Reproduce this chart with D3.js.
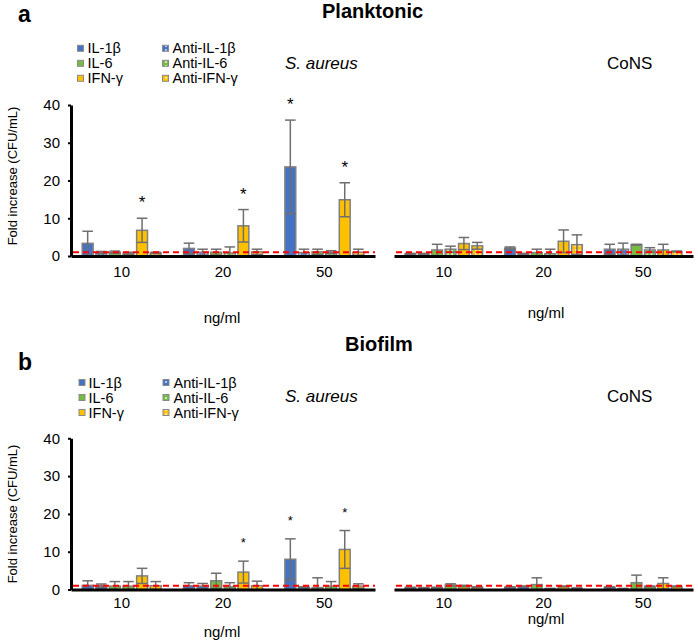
<!DOCTYPE html>
<html><head><meta charset="utf-8">
<script src="https://cdn.jsdelivr.net/npm/d3@7"></script>
<style>
html,body{margin:0;padding:0;background:#fff;}
svg{display:block;font-family:"Liberation Sans",Arial,Helvetica,sans-serif;}
</style></head>
<body><svg id="chart" width="698" height="643"></svg>
<script>
// ---------- data ----------
const doses = ["10", "20", "50"];
const series = ["IL-1β", "Anti-IL-1β", "IL-6", "Anti-IL-6", "IFN-γ", "Anti-IFN-γ"];
const yTicks = [0, 10, 20, 30, 40];
const panelTitles = ["Planktonic", "Biofilm"];
const panelLetters = ["a", "b"];
const species = ["S. aureus", "CoNS"];
const xTitle = "ng/ml";
const yTitles = ["Fold increase (CFU/mL)", "Fold increase  (CFU/mL)"];
const refLine = 1;

// rows = dose (10, 20, 50); columns = series
const plankAureusMean = [[3.35, 0.9, 1.0, 0.7, 6.8, 0.8], [2.0, 1.0, 1.0, 0.8, 8.0, 1.1], [23.6, 0.9, 1.1, 1.0, 14.9, 1.0]];
const plankAureusErr  = [[3.2, 0.3, 0.3, 0.3, 3.2, 0.2], [1.4, 0.8, 0.8, 1.6, 4.3, 0.7], [12.4, 0.9, 0.7, 0.4, 4.5, 0.8]];
const plankAureusSig  = [[0, 0, 0, 0, 1, 0], [0, 0, 0, 0, 1, 0], [1, 0, 0, 0, 1, 0]];

const plankConsMean = [[0.6, 0.6, 1.6, 1.8, 3.3, 2.7], [2.1, 0.6, 0.9, 0.6, 3.9, 3.0], [1.8, 1.8, 3.0, 1.6, 1.6, 1.2]];
const plankConsErr  = [[0.1, 0.1, 1.5, 0.8, 1.6, 0.9], [0.3, 0.1, 0.9, 1.2, 3.0, 2.6], [1.3, 1.6, 0.1, 0.6, 1.5, 0.1]];
const plankConsSig  = [[0, 0, 0, 0, 0, 0], [0, 0, 0, 0, 0, 0], [0, 0, 0, 0, 0, 0]];

const bioAureusMean = [[1.1, 1.0, 0.9, 0.9, 3.6, 1.0], [1.0, 0.9, 2.3, 0.7, 4.6, 1.0], [8.0, 0.6, 0.5, 0.9, 10.6, 0.9]];
const bioAureusErr  = [[1.2, 0.45, 1.2, 1.2, 2.0, 1.1], [0.8, 0.7, 2.0, 1.1, 2.9, 1.2], [5.4, 0.1, 2.6, 1.2, 5.0, 0.6]];
const bioAureusSig  = [[0, 0, 0, 0, 0, 0], [0, 0, 0, 0, 1, 0], [1, 0, 0, 0, 1, 0]];

const bioConsMean = [[0.5, 0.4, 0.5, 1.2, 0.9, 0.6], [0.6, 0.8, 1.3, 0.2, 0.8, 0.3], [0.6, 0.2, 1.8, 0.8, 1.6, 0.8]];
const bioConsErr  = [[0.1, 0.1, 0.1, 0.3, 0.2, 0.1], [0.1, 0.1, 1.8, 0.1, 0.1, 0.1], [0.1, 0.1, 2.0, 0.1, 1.5, 0.1]];
const bioConsSig  = [[0, 0, 0, 0, 0, 0], [0, 0, 0, 0, 0, 0], [0, 0, 0, 0, 0, 0]];

// ---------- style ----------
const baseColors = ["#4472C4", "#4472C4", "#76BC44", "#76BC44", "#FFC000", "#FFC000"];
const isAnti = [false, true, false, true, false, true];
const FONT = "'Liberation Sans',Arial,Helvetica,sans-serif";

const svg = d3.select("#chart");
const defs = svg.append("defs");
["blue", "green", "yellow"].forEach((nm, k) => {
  const p = defs.append("pattern").attr("id", "pat-" + nm)
    .attr("patternUnits", "userSpaceOnUse").attr("width", 4).attr("height", 4);
  p.append("rect").attr("width", 4).attr("height", 4).attr("fill", baseColors[k * 2]);
  p.append("rect").attr("x", 1.2).attr("y", 1.2).attr("width", 1.6).attr("height", 1.6).attr("fill", "#ffffff");
});
const patNames = ["blue", "blue", "green", "green", "yellow", "yellow"];
const fillFor = i => isAnti[i] ? `url(#pat-${patNames[i]})` : baseColors[i];

const layouts = [
  { yRange: [256, 105], tickPad: 10, letterY: 22, titleX: 322, titleY: 18,
    legSw: [77.5, 162.5], legTx: [87.5, 172.5], legBase: 53.3, legStep: 15, speciesY: 69,
    xtY: [323, 318], ytitleY: 176, starSize: 17, starOff: 10 },
  { yRange: [589.5, 438.3], tickPad: 7.5, letterY: 370, titleX: 345, titleY: 350.7,
    legSw: [79, 163], legTx: [88.5, 173.5], legBase: 387.5, legStep: 15, speciesY: 401.7,
    xtY: [637, 624], ytitleY: 514, starSize: 13, starOff: 14 }
];
const xRanges = [[71, 375], [394, 693]];
const speciesX = [285, 607];
const xTitleX = [222, 546];

const panelData = [
  [[plankAureusMean, plankAureusErr, plankAureusSig], [plankConsMean, plankConsErr, plankConsSig]],
  [[bioAureusMean, bioAureusErr, bioAureusSig], [bioConsMean, bioConsErr, bioConsSig]]
];

layouts.forEach((L, p) => {
  const g = svg.append("g");
  const y = d3.scaleLinear().domain([0, 40]).range(L.yRange);

  // letter + title
  g.append("text").attr("x", 18).attr("y", L.letterY).attr("font-size", 23).attr("font-weight", "bold")
    .attr("font-family", FONT).text(panelLetters[p]);
  g.append("text").attr("x", L.titleX).attr("y", L.titleY).attr("font-size", 20).attr("font-weight", "bold")
    .attr("font-family", FONT).text(panelTitles[p]);

  // legend
  const leg = g.append("g");
  series.forEach((s, i) => {
    const col = i % 2, row = Math.floor(i / 2);
    const by = L.legBase + row * L.legStep;
    leg.append("rect").attr("x", L.legSw[col]).attr("y", by - 8).attr("width", 6).attr("height", 6)
      .attr("fill", fillFor(i)).attr("stroke", "#8a8a8a").attr("stroke-width", 1);
    leg.append("text").attr("x", L.legTx[col]).attr("y", by).attr("font-size", 14.5)
      .attr("font-family", FONT).text(s);
  });

  // y title
  g.append("text").attr("transform", `translate(17,${L.ytitleY}) rotate(-90)`).attr("text-anchor", "middle")
    .attr("font-size", 13).attr("font-family", FONT).text(yTitles[p]);

  xRanges.forEach((xr, s) => {
    const [mean, err, sig] = panelData[p][s];
    const x0 = d3.scaleBand().domain(doses).range(xr);
    const x1 = d3.scaleBand().domain(series).range([0, x0.bandwidth()]).paddingInner(0.2).paddingOuter(0.825);

    // species label
    g.append("text").attr("x", speciesX[s]).attr("y", L.speciesY).attr("font-size", 17)
      .attr("font-style", s === 0 ? "italic" : "normal").attr("font-family", FONT).text(species[s]);

    const groups = g.append("g").selectAll("g").data(doses).join("g")
      .attr("transform", d => `translate(${x0(d)},0)`);

    groups.each(function (d, di) {
      const gg = d3.select(this);
      series.forEach((sn, si) => {
        const m = mean[di][si], e = err[di][si];
        const bx = x1(sn), bw = x1.bandwidth(), cx = bx + bw / 2;
        gg.append("rect").attr("x", bx).attr("y", y(m)).attr("width", bw).attr("height", y(0) - y(m))
          .attr("fill", fillFor(si)).attr("stroke", "#808080").attr("stroke-width", 1.5);
        const lo = Math.max(0, m - e), hi = m + e;
        const capW = 5.3;
        gg.append("line").attr("x1", cx).attr("x2", cx).attr("y1", y(lo)).attr("y2", y(hi))
          .attr("stroke", "#6f6f6f").attr("stroke-width", 1.5);
        gg.append("line").attr("x1", cx - capW).attr("x2", cx + capW).attr("y1", y(hi)).attr("y2", y(hi))
          .attr("stroke", "#6f6f6f").attr("stroke-width", 1.5);
        if (m - e > 0.05) {
          gg.append("line").attr("x1", cx - capW).attr("x2", cx + capW).attr("y1", y(lo)).attr("y2", y(lo))
            .attr("stroke", "#6f6f6f").attr("stroke-width", 1.5);
        }
        if (sig[di][si]) {
          gg.append("text").attr("x", cx).attr("y", y(hi) - L.starOff).attr("text-anchor", "middle")
            .attr("font-size", L.starSize).attr("font-family", FONT).text("*");
        }
      });
    });

    // reference line
    g.append("line").attr("x1", xr[0] + 2).attr("x2", xr[1]).attr("y1", y(refLine)).attr("y2", y(refLine))
      .attr("stroke", "#FF0000").attr("stroke-width", 2).attr("stroke-dasharray", "6,4");

    // x axis
    const xa = g.append("g").attr("transform", `translate(0,${y(0)})`)
      .call(d3.axisBottom(x0).tickSize(0).tickSizeOuter(0).tickPadding(L.tickPad));
    xa.select(".domain").attr("stroke", "#000").attr("stroke-width", 3);
    xa.selectAll("text").attr("font-size", 15).attr("font-family", FONT).attr("fill", "#000");

    g.append("text").attr("x", xTitleX[s]).attr("y", L.xtY[s]).attr("text-anchor", "middle")
      .attr("font-size", 15).attr("font-family", FONT).text(xTitle);

    if (s === 0) {
      const ya = g.append("g").attr("transform", `translate(${xr[0]},0)`)
        .call(d3.axisLeft(y).tickValues(yTicks).tickSize(3).tickSizeOuter(0).tickPadding(8));
      ya.select(".domain").attr("stroke", "#000").attr("stroke-width", 3);
      ya.selectAll(".tick line").attr("stroke", "#000").attr("stroke-width", 2);
      ya.selectAll("text").attr("font-size", 15).attr("font-family", FONT).attr("fill", "#000");
    }
  });
});
</script>
</body></html>
